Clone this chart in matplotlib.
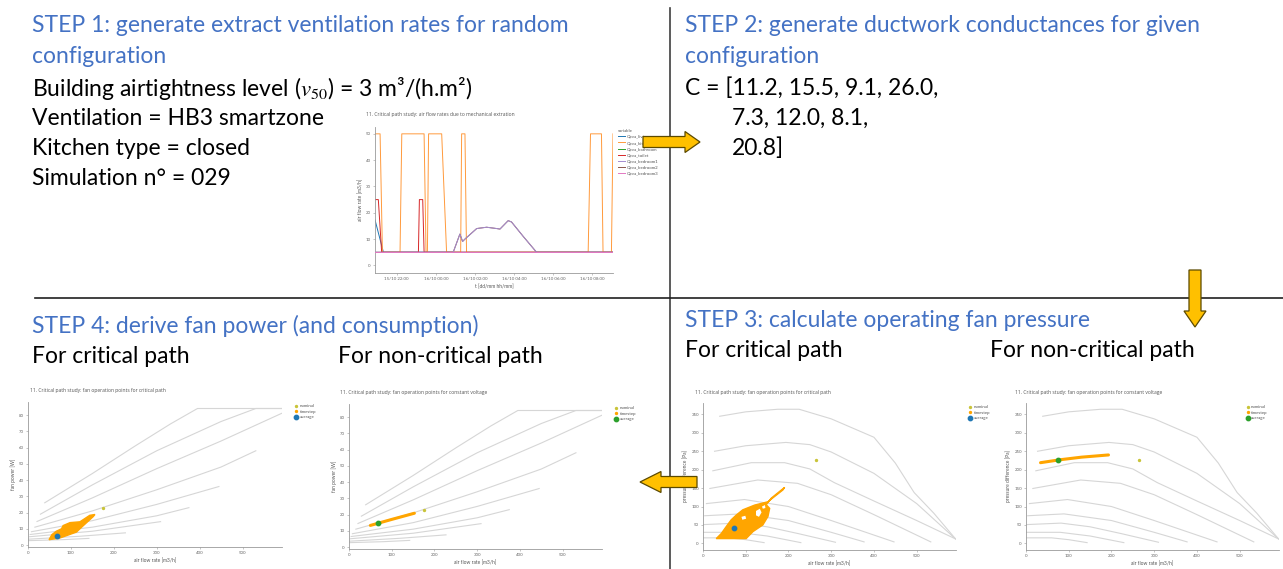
import matplotlib
matplotlib.use('Agg')
import matplotlib.pyplot as plt
from matplotlib.patches import FancyArrow, Polygon

W, H = 1283, 569
plt.rcParams['font.family'] = ['Lato', 'DejaVu Sans']
plt.rcParams['mathtext.fontset'] = 'stix'

# ---------------- step 1 : extract flow rates (t = hours after 15/10 00:00)
t_living = [20.89, 21.32, 33.06]
q_living = [17.3, 5, 5]
t_kitchen = [20.89, 21.15, 21.27, 22.17, 22.26, 23.40, 23.50, 23.57, 23.63, 24.30, 24.55,
             25.27, 25.32, 25.49, 25.57, 31.79, 31.91, 32.47, 32.55, 32.98, 33.06]
q_kitchen = [50, 50, 5, 5, 50, 50, 5, 5, 50, 50, 5, 5, 50, 50, 5, 5, 50, 50, 5, 5, 50]
t_bathroom = [20.89, 33.06]
q_bathroom = [5, 5]
t_toilet = [20.89, 21.06, 21.23, 23.11, 23.16, 23.33, 23.40, 33.06]
q_toilet = [25, 25, 5, 5, 25, 25, 5, 5]
t_bedroom1 = [20.89, 24.89, 25.23, 25.37, 25.49, 26.09, 26.60, 27.11, 27.28, 27.70, 27.87, 28.47, 29.15, 33.06]
q_bedroom1 = [5, 5, 11.9, 9.1, 10, 14.0, 14.5, 14.0, 13.8, 17.0, 16.5, 11.0, 5, 5]
t_bedroom2 = t_bedroom1
q_bedroom2 = q_bedroom1
t_bedroom3 = [20.89, 33.06]
q_bedroom3 = [5, 5]
time_ticks = [22, 24, 26, 28, 30, 32]
time_labels = ['15/10 22:00', '16/10 00:00', '16/10 02:00', '16/10 04:00', '16/10 06:00', '16/10 08:00']

# ---------------- fan curves: pressure [Pa] and power [W] vs flow [m3/h]
pres_q = [[39, 100, 175, 225, 300, 400, 450, 494, 540, 591],
          [27, 100, 194, 250, 300, 400, 500, 591],
          [23, 113, 191, 250, 307, 400, 500, 591],
          [16, 128, 221, 300, 400, 533],
          [8, 97, 200, 300, 447],
          [4, 89, 200, 300, 377],
          [2, 82, 150, 221, 310],
          [0, 80, 150, 229],
          [0, 60, 100, 143]]
pres_dp = [[345, 357, 364, 364, 338, 288, 218, 138, 82, 12],
           [250, 265, 274, 268, 248, 190, 108, 12],
           [197, 219, 219, 202, 165, 115, 62, 12],
           [149, 172, 163, 132, 78, 4],
           [108, 119, 100, 62, 4],
           [75, 80, 62, 30, 4],
           [51, 55, 45, 27, 3],
           [30, 30, 20, 2],
           [15, 15, 10, 2]]
pow_q = [[39, 150, 250, 332, 395, 591],
         [29, 150, 300, 450, 531, 591],
         [21, 150, 300, 450, 591],
         [16, 150, 300, 450, 531],
         [8, 150, 300, 445],
         [5, 150, 300, 375],
         [3, 150, 309],
         [1, 120, 227],
         [0, 80, 142]]
pow_w = [[26, 44, 61, 74.5, 84, 84],
         [19, 37, 58, 76, 84, 84],
         [14.5, 29, 47, 64, 81],
         [11, 21, 34, 48, 58],
         [8.2, 15, 25, 36],
         [6.5, 11, 18, 23],
         [5.1, 8.5, 14.4],
         [3.6, 5.4, 7.5],
         [2.7, 3.3, 4.1]]

# operating points, critical path (outline of the cloud of timesteps)
crit_dp_q = [31, 101, 117, 140, 152, 156, 148, 160, 191, 187, 152, 121, 93, 78, 66, 54, 43]
crit_dp_p = [13, 13, 32, 50, 73, 95, 105, 123, 152, 145, 113, 104, 91, 77, 64, 45, 27]
crit_dp_hole_q = [[124, 133, 137, 131, 124], [90, 99, 101, 92], [138, 145, 146, 140]]
crit_dp_hole_p = [[88, 94, 84, 72, 76], [72, 75, 67, 64], [100, 104, 96, 94]]
crit_pw_q = [49, 74, 90, 113, 125, 152, 156, 144, 121, 98, 82, 78, 66, 56]
crit_pw_w = [3.3, 4.3, 5.8, 8.0, 11.0, 17.5, 18.8, 18.3, 14.3, 13.8, 12.0, 10.0, 8.5, 6.5]
crit_avg_q, crit_avg_dp = 72, 43
crit_avg_pq, crit_avg_w = 67, 5.5
# operating points, constant voltage
cv_q = [34, 80, 130, 193]
cv_dp = [219, 227, 234, 240]
cv_pw_q = [50, 100, 153]
cv_pw_w = [13.3, 17.0, 20.8]
cv_avg_q, cv_avg_dp = 74, 226
cv_avg_pq, cv_avg_w = 68, 14.5
# nominal point
nom_q, nom_dp = 265, 226
nom_pq, nom_w = 175, 22.6

BLUE = '#4472C4'
ORANGE = '#FFA500'
NOM = '#c9c43a'
GREY = '#d6d6d6'

fig = plt.figure(figsize=(W / 100, H / 100), dpi=100)

# background layer: slide text and dividers, pixel coordinates
bg = fig.add_axes([0, 0, 1, 1])
bg.set_xlim(0, W)
bg.set_ylim(H, 0)
bg.axis('off')
bg.plot([670, 670], [8, H], color='#404040', lw=1.2)
bg.plot([35, W], [298, 298], color='#202020', lw=1.2)

fs = 16.5
def line(x, y, s, color='black'):
    bg.text(x, y, s, fontsize=fs, color=color, va='center', ha='left')

line(32, 25, 'STEP 1: generate extract ventilation rates for random', BLUE)
line(32, 56, 'configuration', BLUE)
line(32, 88, r'Building airtightness level ($\mathit{v}_{50}$) = 3 m³/(h.m²)')
line(32, 118, 'Ventilation = HB3 smartzone')
line(32, 148, 'Kitchen type = closed')
line(32, 178, 'Simulation n° = 029')

line(685, 25, 'STEP 2: generate ductwork conductances for given', BLUE)
line(685, 56, 'configuration', BLUE)
line(685, 88, 'C = [11.2, 15.5, 9.1, 26.0,')
line(732, 118, '7.3, 12.0, 8.1,')
line(732, 148, '20.8]')

line(685, 320, 'STEP 3: calculate operating fan pressure', BLUE)
line(685, 350, 'For critical path')
line(990, 350, 'For non-critical path')

line(32, 326, 'STEP 4: derive fan power (and consumption)', BLUE)
line(32, 356, 'For critical path')
line(338, 356, 'For non-critical path')

def small_axes(l, t, r, b, xlim, ylim, title, tx, ty):
    ax = fig.add_axes([l / W, 1 - b / H, (r - l) / W, (b - t) / H])
    ax.set_xlim(xlim)
    ax.set_ylim(ylim)
    for s in ['top', 'right']:
        ax.spines[s].set_visible(False)
    for s in ['left', 'bottom']:
        ax.spines[s].set_color('#9a9a9a')
        ax.spines[s].set_linewidth(0.6)
    ax.tick_params(labelsize=3.2, length=1.5, width=0.4, colors='#9a9a9a',
                   labelcolor='#666666', pad=1.5)
    bg.text(tx, ty, title, fontsize=3.6, color='#555555', va='center', ha='left',
            family=['Open Sans', 'DejaVu Sans'])
    return ax

def op_legend(ax, x0):
    ax.legend(loc='upper left', bbox_to_anchor=(x0, 1.0), frameon=False, fontsize=3.2,
              handletextpad=0.3, labelspacing=0.35, borderaxespad=0, handlelength=1.0,
              labelcolor='#555555')

# step 1 chart
ax1 = small_axes(375, 127, 613, 273, (20.89, 33.06), (-2.9, 52.6),
                 '11. Critical path study: air flow rates due to mechanical extration', 366, 114)
series = [(t_living, q_living, '#1f77b4', 'Qeva_living', 2),
          (t_kitchen, q_kitchen, '#ff9a3c', 'Qeva_kitchen', 2),
          (t_bathroom, q_bathroom, '#2ca02c', 'Qeva_bathroom', 2),
          (t_toilet, q_toilet, '#d62728', 'Qeva_toilet', 2),
          (t_bedroom1, q_bedroom1, '#a48cd0', 'Qeva_bedroom1', 3),
          (t_bedroom2, q_bedroom2, '#8c564b', 'Qeva_bedroom2', 2.5),
          (t_bedroom3, q_bedroom3, '#e377c2', 'Qeva_bedroom3', 4)]
for tt, qq, c, lab, z in series:
    ax1.plot(tt, qq, color=c, lw=0.7, label=lab, zorder=z)
ax1.set_xticks(time_ticks)
ax1.set_xticklabels(time_labels)
ax1.set_yticks([0, 10, 20, 30, 40, 50])
ax1.set_xlabel('t [dd/mm hh/mm]', fontsize=3.5, color='#555555', labelpad=2)
ax1.set_ylabel('air flow rate [m3/h]', fontsize=3.5, color='#555555', labelpad=2)
leg = ax1.legend(loc='upper left', bbox_to_anchor=(1.015, 1.0), frameon=False, fontsize=3.2,
                 title='variable', title_fontsize=3.2, handlelength=1.6, handletextpad=0.4,
                 labelspacing=0.45, borderaxespad=0, labelcolor='#555555', alignment='left')
leg.get_title().set_color('#555555')

def fan_chart(l, t, r, b, ylim, qs, ys, yticks, ylabel, title, tx, ty):
    ax = small_axes(l, t, r, b, (0, 592), ylim, title, tx, ty)
    for qq, yy in zip(qs, ys):
        ax.plot(qq, yy, color=GREY, lw=0.8, zorder=1)
    ax.set_xticks([0, 100, 200, 300, 400, 500])
    ax.set_yticks(yticks)
    ax.set_xlabel('air flow rate [m3/h]', fontsize=3.5, color='#555555', labelpad=2)
    ax.set_ylabel(ylabel, fontsize=3.5, color='#555555', labelpad=2)
    return ax

def op_points(ax, nq, ny, aq, ay, acolor):
    ax.scatter([nq], [ny], s=2, color=NOM, zorder=3, label='nominal')
    ax.scatter([], [], s=2, color=ORANGE, label='timestep')
    ax.scatter([aq], [ay], s=10, color=acolor, zorder=4, label='average')

# step 3 charts (pressure)
ax3a = fan_chart(703, 403, 956, 550, (-18, 381), pres_q, pres_dp, range(0, 351, 50),
                 'pressure difference [Pa]',
                 '11. Critical path study: fan operation points for critical path', 695, 392)
ax3a.add_patch(Polygon(list(zip(crit_dp_q, crit_dp_p)), closed=True, fc=ORANGE, ec=ORANGE, lw=1.0, zorder=2))
for hq, hp in zip(crit_dp_hole_q, crit_dp_hole_p):
    ax3a.add_patch(Polygon(list(zip(hq, hp)), closed=True, fc='white', ec='none', zorder=2.5))
op_points(ax3a, nom_q, nom_dp, crit_avg_q, crit_avg_dp, '#1f77b4')
op_legend(ax3a, 1.04)

ax3b = fan_chart(1026, 403, 1279, 550, (-18, 381), pres_q, pres_dp, range(0, 351, 50),
                 'pressure difference [Pa]',
                 '11. Critical path study: fan operation points for constant voltage', 1015, 392)
ax3b.plot(cv_q, cv_dp, color=ORANGE, lw=2.2, solid_capstyle='round', zorder=2)
op_points(ax3b, nom_q, nom_dp, cv_avg_q, cv_avg_dp, '#2ca02c')
op_legend(ax3b, 0.86)

# step 4 charts (power)
ax4a = fan_chart(28, 402, 282, 547, (-1.2, 88), pow_q, pow_w, range(0, 81, 10), 'fan power [W]',
                 '11. Critical path study: fan operation points for critical path', 30, 390)
ax4a.add_patch(Polygon(list(zip(crit_pw_q, crit_pw_w)), closed=True, fc=ORANGE, ec=ORANGE, lw=1.0, zorder=2))
op_points(ax4a, nom_pq, nom_w, crit_avg_pq, crit_avg_w, '#1f77b4')
op_legend(ax4a, 1.04)

ax4b = fan_chart(349, 404, 602, 549, (-1.2, 88), pow_q, pow_w, range(0, 81, 10), 'fan power [W]',
                 '11. Critical path study: fan operation points for constant voltage', 340, 392)
ax4b.plot(cv_pw_q, cv_pw_w, color=ORANGE, lw=2.2, solid_capstyle='round', zorder=2)
op_points(ax4b, nom_pq, nom_w, cv_avg_pq, cv_avg_w, '#2ca02c')
op_legend(ax4b, 1.04)

# arrows on top
top = fig.add_axes([0, 0, 1, 1], zorder=10)
top.set_xlim(0, W)
top.set_ylim(H, 0)
top.axis('off')
akw = dict(length_includes_head=True, fc='#FFC000', ec='#5c4a00', lw=0.9)
top.add_patch(FancyArrow(643, 142, 57, 0, width=11, head_width=21, head_length=15, **akw))
top.add_patch(FancyArrow(1195, 270, 0, 57, width=12, head_width=22, head_length=16, **akw))
top.add_patch(FancyArrow(697, 482, -57, 0, width=11, head_width=21, head_length=21, **akw))

fig.savefig('out.png', dpi=100)
